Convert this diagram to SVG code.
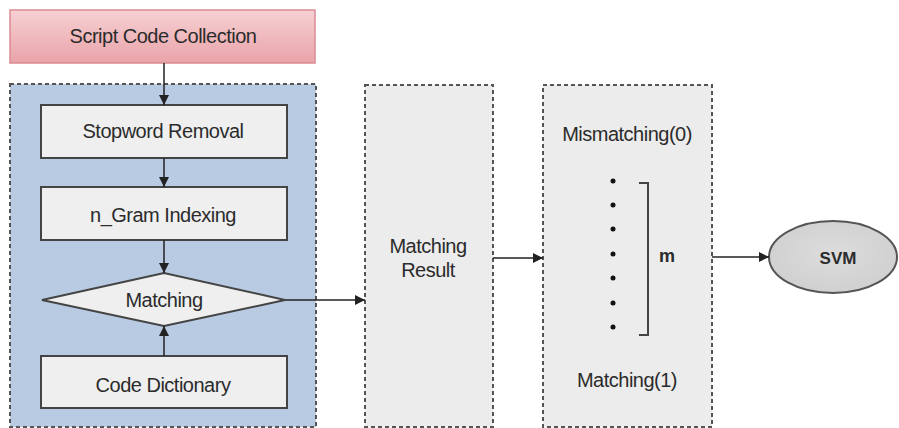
<svg xmlns="http://www.w3.org/2000/svg" width="899" height="428" viewBox="0 0 899 428">
  <defs>
    <linearGradient id="pinkFill" x1="0" y1="0" x2="0" y2="1">
      <stop offset="0" stop-color="#f6d0d3"/>
      <stop offset="1" stop-color="#e9a3a9"/>
    </linearGradient>
    <radialGradient id="svmFill" cx="0.5" cy="0.45" r="0.6">
      <stop offset="0" stop-color="#dcdcdc"/>
      <stop offset="1" stop-color="#cfcfcf"/>
    </radialGradient>
    <marker id="arrow" viewBox="0 0 10 10" refX="10" refY="5" markerWidth="10" markerHeight="10" markerUnits="userSpaceOnUse" orient="auto">
      <path d="M0,0 L10,5 L0,10 Z" fill="#222"/>
    </marker>
  </defs>
  <style>
    text { font-family: "Liberation Sans", Arial, sans-serif; fill: #2b2b2b; text-anchor: middle; }
    .lbl { font-size: 20px; letter-spacing: -0.5px; }
    .bold { font-weight: bold; letter-spacing: 0; }
    .panel { stroke: #555; stroke-width: 2; stroke-dasharray: 4 3; }
    .box { fill: #efefef; stroke: #444; stroke-width: 2; }
    .conn { stroke: #222; stroke-width: 1.5; fill: none; marker-end: url(#arrow); }
  </style>

  <rect width="899" height="428" fill="#ffffff"/>

  <!-- containers -->
  <g id="preprocessing-panel">
    <rect class="panel" x="10" y="84" width="306" height="343" fill="#b8cbe3"/>
  </g>
  <g id="matching-result">
    <rect class="panel" x="365" y="85" width="128" height="342" fill="#ececec"/>
    <text class="lbl" x="428" y="253">Matching</text>
    <text class="lbl" x="428" y="277">Result</text>
  </g>
  <g id="vector">
    <rect class="panel" x="543" y="85" width="169" height="342" fill="#ececec"/>
    <text class="lbl" x="627" y="141">Mismatching(0)</text>
    <g fill="#111">
      <circle cx="613" cy="181" r="2.5"/>
      <circle cx="613" cy="205" r="2.5"/>
      <circle cx="613" cy="229" r="2.5"/>
      <circle cx="613" cy="254" r="2.5"/>
      <circle cx="613" cy="278" r="2.5"/>
      <circle cx="613" cy="303" r="2.5"/>
      <circle cx="613" cy="327" r="2.5"/>
    </g>
    <path d="M639,183 H648 V335 H639" fill="none" stroke="#444" stroke-width="2"/>
    <text class="lbl bold" x="667" y="262" style="font-size:18px">m</text>
    <text class="lbl" x="627" y="387">Matching(1)</text>
  </g>

  <!-- nodes -->
  <g id="script-code-collection">
    <rect x="10" y="10" width="305" height="53" fill="url(#pinkFill)" stroke="#d98c93" stroke-width="1.5"/>
    <text class="lbl" x="163" y="43">Script Code Collection</text>
  </g>
  <g id="stopword-removal">
    <rect class="box" x="41" y="105" width="246" height="53"/>
    <text class="lbl" x="163" y="138">Stopword Removal</text>
  </g>
  <g id="ngram-indexing">
    <rect class="box" x="41" y="187" width="246" height="53"/>
    <text class="lbl" x="163" y="222">n_Gram Indexing</text>
  </g>
  <g id="matching">
    <polygon class="box" points="42,300 164,273 285,300 164,326"/>
    <text class="lbl" x="164" y="307">Matching</text>
  </g>
  <g id="code-dictionary">
    <rect class="box" x="41" y="356" width="246" height="52"/>
    <text class="lbl" x="163" y="392">Code Dictionary</text>
  </g>
  <g id="svm">
    <ellipse cx="833" cy="257" rx="64" ry="36" fill="url(#svmFill)" stroke="#555" stroke-width="2"/>
    <text class="bold" x="838" y="264" style="font-size:17px">SVM</text>
  </g>

  <!-- connectors -->
  <g id="connectors">
    <line class="conn" x1="164" y1="63" x2="164" y2="105"/>
    <line class="conn" x1="164" y1="158" x2="164" y2="187"/>
    <line class="conn" x1="164" y1="240" x2="164" y2="273"/>
    <line class="conn" x1="164" y1="356" x2="164" y2="326"/>
    <line class="conn" x1="285" y1="300" x2="365" y2="300"/>
    <line class="conn" x1="493" y1="258" x2="543" y2="258"/>
    <line class="conn" x1="712" y1="257" x2="769" y2="257"/>
  </g>
</svg>
